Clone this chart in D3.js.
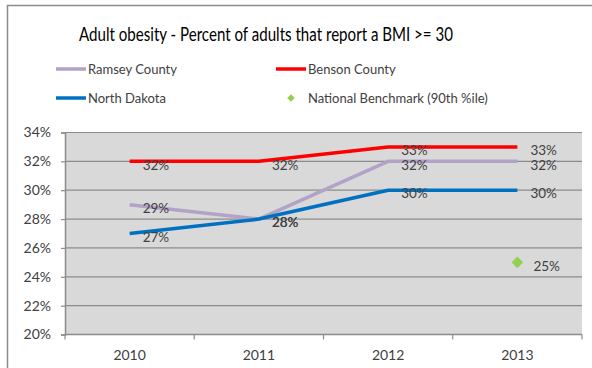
<!DOCTYPE html>
<html>
<head>
<meta charset="utf-8">
<script src="https://cdn.jsdelivr.net/npm/d3@7"></script>
<style>
  html, body { margin: 0; padding: 0; background: #fff; }
  svg { display: block; }
  text { font-family: Lato, "Open Sans", sans-serif; }
</style>
</head>
<body>
<svg id="chart" width="592" height="368"></svg>
<script>
// Data
const years = ["2010", "2011", "2012", "2013"];
const ramsey = [29, 28, 32, 32];
const benson = [32, 32, 33, 33];
const northDakota = [27, 28, 30, 30];
const benchmarkYear = "2013";
const benchmarkValue = 25;
const yTicks = [20, 22, 24, 26, 28, 30, 32, 34];
const titleText = "Adult obesity - Percent of adults that report a BMI >= 30";

const series = [
  { name: "Ramsey County", values: ramsey, color: "#b3a2c7" },
  { name: "Benson County", values: benson, color: "#ff0000" },
  { name: "North Dakota", values: northDakota, color: "#0070c0" }
];

const svg = d3.select("#chart");
const textColor = "#404040";

// Outer chart frame (top and left edges)
svg.append("path")
  .attr("d", "M7.5,368 V5.5 H592")
  .attr("fill", "none")
  .attr("stroke", "#8c8c8c")
  .attr("stroke-width", 1.5);

// Plot area
const plot = { left: 65, right: 582, top: 132.5, bottom: 334.5 };

const x = d3.scaleBand().domain(years).range([plot.left, plot.right]);
const y = d3.scaleLinear().domain([20, 34]).range([plot.bottom, plot.top]);
const cx = d => x(d) + x.bandwidth() / 2;

svg.append("rect")
  .attr("x", plot.left).attr("y", plot.top)
  .attr("width", plot.right - plot.left).attr("height", plot.bottom - plot.top)
  .attr("fill", "#d9d9d9");

// Gridlines
svg.append("g").selectAll("line").data(yTicks).join("line")
  .attr("x1", plot.left).attr("x2", plot.right)
  .attr("y1", d => y(d)).attr("y2", d => y(d))
  .attr("stroke", "#8c8c8c").attr("stroke-width", 1.2);

// Y axis
const yAxis = svg.append("g")
  .attr("transform", `translate(${plot.left},0)`)
  .call(d3.axisLeft(y).tickValues(yTicks).tickSize(4).tickPadding(10)
    .tickFormat(d => d + "%"));
yAxis.select(".domain").attr("stroke", "#8c8c8c").attr("stroke-width", 1.5);
yAxis.selectAll(".tick line").attr("stroke", "#8c8c8c").attr("stroke-width", 1.2);
yAxis.selectAll(".tick text")
  .attr("fill", textColor).style("font-size", "14px")
  .style("font-family", "Lato, sans-serif");

// X axis with ticks on category boundaries
const xAxisG = svg.append("g").attr("transform", `translate(0,${plot.bottom})`);
xAxisG.append("line")
  .attr("x1", plot.left).attr("x2", plot.right)
  .attr("stroke", "#8c8c8c").attr("stroke-width", 1.5);
const boundaries = years.map(d => x(d)).concat([x(years[years.length - 1]) + x.bandwidth()]);
xAxisG.selectAll("line.tk").data(boundaries).join("line")
  .attr("class", "tk")
  .attr("x1", d => d).attr("x2", d => d)
  .attr("y1", 0).attr("y2", 5)
  .attr("stroke", "#8c8c8c").attr("stroke-width", 1.2);
xAxisG.selectAll("text").data(years).join("text")
  .attr("x", d => cx(d)).attr("y", 25)
  .attr("text-anchor", "middle")
  .attr("fill", textColor).style("font-size", "14px")
  .text(d => d);

// Lines
const line = d3.line()
  .x((d, i) => cx(years[i]))
  .y(d => y(d));

series.forEach(s => {
  svg.append("path")
    .datum(s.values)
    .attr("d", line)
    .attr("fill", "none")
    .attr("stroke", s.color)
    .attr("stroke-width", 3.5)
    .attr("stroke-linejoin", "round");
});

// Data labels, right of each point
series.forEach(s => {
  svg.append("g").selectAll("text").data(s.values).join("text")
    .attr("x", (d, i) => cx(years[i]) + 13)
    .attr("y", d => y(d) + 3.5)
    .attr("dy", "0.35em")
    .attr("fill", textColor)
    .style("font-size", "13.5px")
    .text(d => d + "%");
});

// National benchmark point
const bx = cx(benchmarkYear), by = y(benchmarkValue);
svg.append("path")
  .attr("d", d3.symbol(d3.symbolDiamond2, 85)())
  .attr("transform", `translate(${bx},${by})`)
  .attr("fill", "#92d050");
svg.append("text")
  .attr("x", bx + 16).attr("y", by + 3.5)
  .attr("dy", "0.35em")
  .attr("fill", textColor).style("font-size", "13.5px")
  .text(benchmarkValue + "%");

// Title
svg.append("text")
  .attr("x", 266).attr("y", 41)
  .attr("text-anchor", "middle")
  .attr("fill", "#000")
  .attr("textLength", 374)
  .attr("lengthAdjust", "spacingAndGlyphs")
  .style("font-size", "18.5px")
  .text(titleText);

// Legend
const legend = [
  { name: "Ramsey County", color: "#b3a2c7", x: 56, y: 69, type: "line" },
  { name: "Benson County", color: "#ff0000", x: 276, y: 69, type: "line" },
  { name: "North Dakota", color: "#0070c0", x: 56, y: 98, type: "line" },
  { name: "National Benchmark (90th %ile)", color: "#92d050", x: 276, y: 98, type: "diamond" }
];
const lg = svg.append("g").selectAll("g").data(legend).join("g")
  .attr("transform", d => `translate(${d.x},${d.y})`);
lg.filter(d => d.type === "line").append("line")
  .attr("x1", 0).attr("x2", 30)
  .attr("stroke", d => d.color).attr("stroke-width", 3.5);
lg.filter(d => d.type === "diamond").append("path")
  .attr("d", d3.symbol(d3.symbolDiamond2, 36)())
  .attr("transform", "translate(15,0)")
  .attr("fill", d => d.color);
lg.append("text")
  .attr("x", 32).attr("dy", "0.35em")
  .attr("fill", textColor).style("font-size", "13px")
  .text(d => d.name);
</script>
</body>
</html>
